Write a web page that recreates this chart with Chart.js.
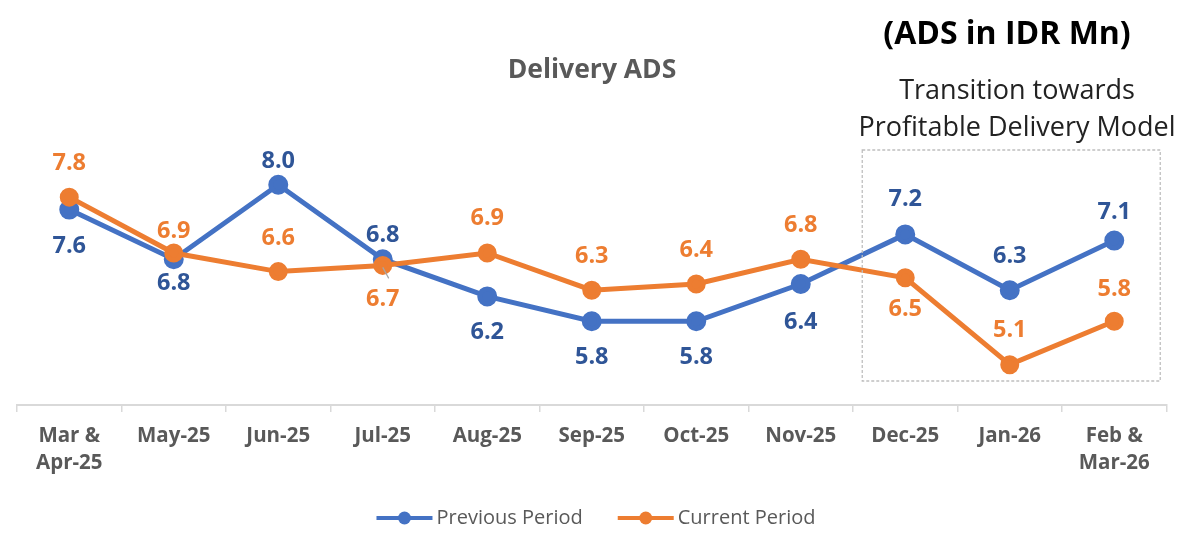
<!DOCTYPE html>
<html>
<head>
<meta charset="utf-8">
<script src="https://cdn.jsdelivr.net/npm/chart.js@4"></script>
<style>
  html, body { margin: 0; padding: 0; background: #fff; }
  #wrap { width: 1179px; height: 534px; }
</style>
</head>
<body>
<div id="wrap"><canvas id="grafico"></canvas></div>
<script>
const months = [
  ["Mar &", "Apr-25"], "May-25", "Jun-25", "Jul-25", "Aug-25", "Sep-25",
  "Oct-25", "Nov-25", "Dec-25", "Jan-26", ["Feb &", "Mar-26"]
];
const previousPeriod = [7.6, 6.8, 8.0, 6.8, 6.2, 5.8, 5.8, 6.4, 7.2, 6.3, 7.1];
const currentPeriod = [7.8, 6.9, 6.6, 6.7, 6.9, 6.3, 6.4, 6.8, 6.5, 5.1, 5.8];

// label offsets (px, + = below the point), like excel placed them
const prevLabelOffset = [37, 24, -23, -24, 36, 36, 36, 38, -35, -34, -28];
const curLabelOffset = [-34, -22, -33, 34, -35, -34, -34, -34, 32, -34, -32];

const BLUE = "#4472C4";
const BLUE_TXT = "#2F5597";
const ORANGE = "#ED7D31";
const GRAY = "#595959";
const FONT = "'Open Sans', sans-serif";

const extras = {
  id: "extras",
  afterDatasetsDraw(chart) {
    const c = chart.ctx;
    const area = chart.chartArea;
    const x = chart.scales.x;
    c.save();

    // data labels
    const sets = [[1, prevLabelOffset, BLUE_TXT], [0, curLabelOffset, ORANGE]];
    c.font = "bold 23.5px " + FONT;
    c.textAlign = "center";
    c.textBaseline = "middle";
    sets.forEach(([di, offs, col]) => {
      const meta = chart.getDatasetMeta(di);
      const vals = chart.data.datasets[di].data;
      meta.data.forEach((pt, i) => {
        c.fillStyle = col;
        c.fillText(vals[i].toFixed(1), pt.x, pt.y + offs[i]);
      });
    });

    // small leader line for Jul-25 current label
    const jul = chart.getDatasetMeta(0).data[3];
    c.strokeStyle = "#A6A6A6";
    c.lineWidth = 1.2;
    c.beginPath();
    c.moveTo(jul.x, jul.y + 2);
    c.lineTo(jul.x + 6, jul.y + 13);
    c.stroke();

    // dashed box round the last three months
    const left = x.getPixelForValue(8) - 43;
    const right = x.getPixelForValue(10) + 46;
    c.strokeStyle = "#BFBFBF";
    c.lineWidth = 1.3;
    c.setLineDash([3, 2]);
    c.strokeRect(left, area.top, right - left, area.bottom - 24 - area.top);
    c.setLineDash([]);

    // titles
    c.fillStyle = GRAY;
    c.font = "bold 26.5px " + FONT;
    c.fillText("Delivery ADS", 592, 70);
    c.fillStyle = "#000";
    c.font = "bold 32px " + FONT;
    c.fillText("(ADS in IDR Mn)", 1007, 35);
    c.fillStyle = "#222";
    c.font = "27px " + FONT;
    c.fillText("Transition towards", 1017, 91);
    c.fillText("Profitable Delivery Model", 1017, 128);

    // legend
    c.font = "20px " + FONT;
    const items = [["Previous Period", BLUE], ["Current Period", ORANGE]];
    const gap = 35;
    const widths = items.map(([t]) => 60 + c.measureText(t).width);
    let lx = 596 - (widths[0] + widths[1] + gap) / 2;
    const ly = 518;
    items.forEach(([t, col], i) => {
      c.strokeStyle = col;
      c.lineWidth = 4;
      c.beginPath();
      c.moveTo(lx, ly);
      c.lineTo(lx + 56, ly);
      c.stroke();
      c.fillStyle = col;
      c.beginPath();
      c.arc(lx + 28, ly, 6.5, 0, Math.PI * 2);
      c.fill();
      c.fillStyle = GRAY;
      c.textAlign = "left";
      c.fillText(t, lx + 60, ly);
      lx += widths[i] + gap;
    });
    c.restore();
  }
};

new Chart(document.getElementById("grafico"), {
  type: "line",
  data: {
    labels: months,
    datasets: [
      {
        label: "Current Period",
        data: currentPeriod,
        borderColor: ORANGE,
        backgroundColor: ORANGE,
        borderWidth: 5,
        pointRadius: 7,
        pointHoverRadius: 7,
        order: 0
      },
      {
        label: "Previous Period",
        data: previousPeriod,
        borderColor: BLUE,
        backgroundColor: BLUE,
        borderWidth: 5,
        pointRadius: 7.5,
        pointHoverRadius: 7.5,
        order: 1
      }
    ]
  },
  options: {
    responsive: true,
    maintainAspectRatio: false,
    animation: false,
    layout: {
      padding: { top: 150, left: 17, right: 12, bottom: 0 }
    },
    scales: {
      x: {
        offset: true,
        grid: {
          offset: true,
          drawOnChartArea: false,
          drawTicks: true,
          tickLength: 7,
          color: "#D9D9D9",
          lineWidth: 1.5
        },
        border: { display: true, color: "#D9D9D9", width: 2 },
        ticks: {
          color: GRAY,
          padding: 10,
          maxRotation: 0,
          autoSkip: false,
          font: { family: FONT, size: 20.5, weight: "bold", lineHeight: 1.35 }
        },
        afterFit(scale) { scale.height = 129; }
      },
      y: {
        display: false,
        min: 4.45,
        max: 8.56
      }
    },
    plugins: {
      legend: { display: false },
      title: { display: false },
      tooltip: { enabled: false }
    }
  },
  plugins: [extras]
});
</script>
</body>
</html>
